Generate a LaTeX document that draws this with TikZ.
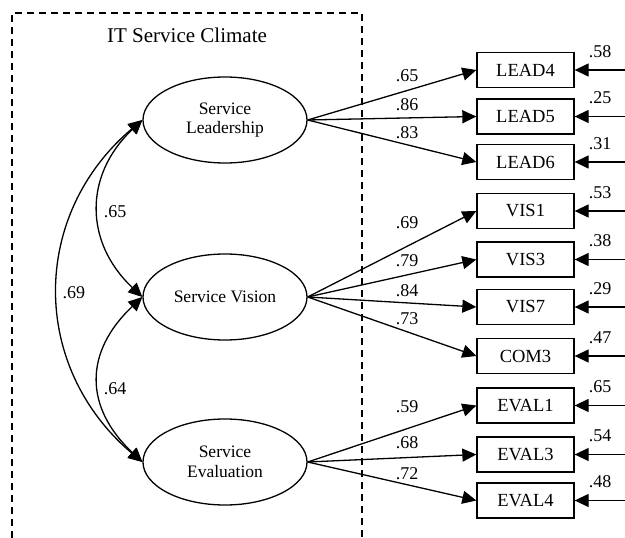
\documentclass[tikz,border=0pt]{standalone}
\usepackage{fontspec}
\setmainfont{Liberation Serif}
\usetikzlibrary{arrows.meta,shapes.geometric}
\begin{document}
\begin{tikzpicture}[x=1pt,y=-1pt,
 lat/.style={ellipse,draw,line width=1.3pt,minimum width=164pt,minimum height=86pt,inner sep=0pt,align=center,font=\fontsize{17.5}{19.5}\selectfont},
 obs/.style={rectangle,draw,line width=1.3pt,minimum width=97pt,minimum height=35pt,inner sep=0pt,font=\fontsize{18.5}{20}\selectfont},
 arr/.style={line width=1.3pt,-{Triangle[length=14pt,width=13pt]}},
 biarr/.style={line width=1.3pt,{Triangle[length=14pt,width=13pt]}-{Triangle[length=14pt,width=13pt]}},
 num/.style={font=\fontsize{18}{20}\selectfont,inner sep=0pt},
 dashframe/.style={line width=1.3pt,dash pattern=on 7pt off 5pt}]
\useasboundingbox (0,0) rectangle (625,538);
% frame
\draw[dashframe] (12,538) -- (12,13) -- (362,13) -- (362,538);
\node[font=\fontsize{21}{24}\selectfont,anchor=base,inner sep=0pt] (title) at (187,42) {IT Service Climate};
% latent variables
\node[lat] (SL) at (225,120) {Service\\Leadership};
\node[lat] (SV) at (225,297) {Service Vision};
\node[lat] (SE) at (225,462) {Service\\Evaluation};
% observed variables with errors
\foreach \n/\t/\yy/\e in {L4/LEAD4/70/.58, L5/LEAD5/116.5/.25, L6/LEAD6/162/.31,
  V1/VIS1/211/.53, V3/VIS3/259.5/.38, V7/VIS7/307/.29, C3/COM3/356/.47,
  E1/EVAL1/405.5/.65, E3/EVAL3/454.5/.54, E4/EVAL4/500.5/.48} {
  \node[obs] (\n) at (525.5,\yy) {\t};
  \coordinate (\n err) at (625,\yy);
  \draw[arr] (\n err) -- (\n.east);
  \node[num] (\n e) at (600,\yy-18.5) {\e};
}
% loadings
\draw[arr] (SL.east) -- (L4.west);
\draw[arr] (SL.east) -- (L5.west);
\draw[arr] (SL.east) -- (L6.west);
\draw[arr] (SV.east) -- (V1.west);
\draw[arr] (SV.east) -- (V3.west);
\draw[arr] (SV.east) -- (V7.west);
\draw[arr] (SV.east) -- (C3.west);
\draw[arr] (SE.east) -- (E1.west);
\draw[arr] (SE.east) -- (E3.west);
\draw[arr] (SE.east) -- (E4.west);
\node[num] (l1) at (407,76) {.65};
\node[num] (l2) at (407,105) {.86};
\node[num] (l3) at (407,133) {.83};
\node[num] (l4) at (407,223) {.69};
\node[num] (l5) at (407,261) {.79};
\node[num] (l6) at (407,291) {.84};
\node[num] (l7) at (407,319) {.73};
\node[num] (l8) at (407,407) {.59};
\node[num] (l9) at (407,443) {.68};
\node[num] (l10) at (407,474) {.72};
% correlations
\draw[biarr] (SL.west) .. controls (84,175) and (84,242) .. (SV.west);
\draw[biarr] (SV.west) .. controls (84,352) and (84,407) .. (SE.west);
\draw[biarr] (SL.west) .. controls (30,215) and (30,367) .. (SE.west);
\node[num] (c1) at (115,212) {.65};
\node[num] (c2) at (115,389) {.64};
\node[num] (c3) at (74,293) {.69};
\end{tikzpicture}
\end{document}
